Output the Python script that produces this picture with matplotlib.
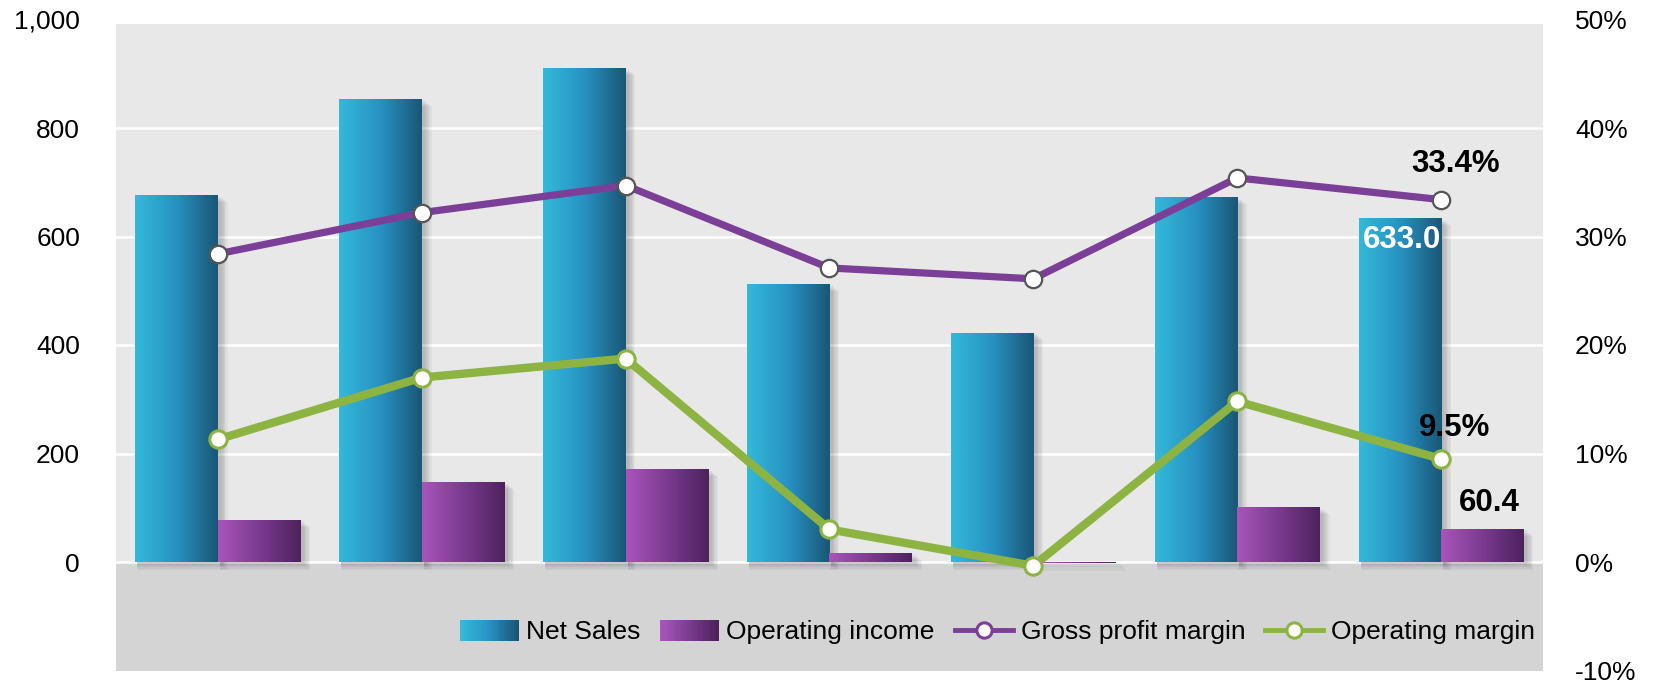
import numpy as np
import matplotlib
matplotlib.use("Agg")
import matplotlib.pyplot as plt
from matplotlib.colors import LinearSegmentedColormap
from matplotlib.patches import Rectangle
from matplotlib.lines import Line2D
from matplotlib.legend_handler import HandlerBase
from matplotlib.ticker import FuncFormatter

plt.rcParams['font.family'] = ['Liberation Sans', 'DejaVu Sans']

# --- data ---
periods = ["P1", "P2", "P3", "P4", "P5", "P6", "P7"]
net_sales = [675, 853, 910, 512, 422, 672, 633.0]
op_income = [77, 146, 170, 16, -1.5, 100, 60.4]
gross_margin = [28.4, 32.2, 34.7, 27.1, 26.1, 35.4, 33.4]
op_margin = [11.3, 17.0, 18.75, 3.0, -0.35, 14.8, 9.5]

left_ticks = [0, 200, 400, 600, 800, 1000]
right_ticks = [-10, 0, 10, 20, 30, 40, 50]

# --- colours ---
cyan_cmap = LinearSegmentedColormap.from_list("cy", ["#34b9d9", "#2792c2", "#1a5676"])
purp_cmap = LinearSegmentedColormap.from_list("pu", ["#a855ba", "#7a3b8f", "#4d225c"])
GROSS = "#7b3f97"
OPM = "#8db442"
TOP_BG = "#e8e8e8"
FLOOR_BG = "#d4d4d4"

W, H, DPI = 1656, 680, 100
PT = 72.0 / DPI  # points per pixel
fig = plt.figure(figsize=(W / DPI, H / DPI), dpi=DPI)
ax = fig.add_axes([116 / W, 1 - 670.5 / H, (1543 - 116) / W, (670.5 - 19.5) / H])
ax2 = ax.twinx()

ax.set_facecolor("none")
ax.axhspan(-200, 0, color=FLOOR_BG, zorder=0, lw=0)
ax.axhspan(0, 992, color=TOP_BG, zorder=0, lw=0)
for t in left_ticks[:-1]:
    ax.axhline(t, color="white", lw=1.8, zorder=1)

grad = np.linspace(0, 1, 256).reshape(1, -1)
bw = 0.405
xpx = 7 / 1427.0    # data units per pixel on x
ypx = 1200 / 651.0  # data units per pixel on y


def gradient_bar(x0, h, cmap):
    if abs(h) < 1e-9:
        return
    y0, y1 = (0, h) if h > 0 else (h, 0)
    # soft shadow
    for k in range(6, 0, -1):
        ax.add_patch(Rectangle((x0 + 2 * xpx, y0 - k * 1.3 * ypx), bw + k * 1.3 * xpx,
                               (y1 - y0) + 0.2 * k * ypx, color="black",
                               alpha=0.035, lw=0, zorder=2))
    ax.imshow(grad, cmap=cmap, aspect="auto", extent=(x0, x0 + bw, y0, y1),
              zorder=3, interpolation="bilinear")


x = np.arange(len(periods))
for i in range(len(periods)):
    gradient_bar(x[i] - bw, net_sales[i], cyan_cmap)
    gradient_bar(x[i], op_income[i], purp_cmap)

ax.set_xlim(-0.5, len(periods) - 0.5)
ax.set_ylim(-200, 1000)

ax2.plot(x, gross_margin, color=GROSS, lw=5.2, marker="o", ms=12.5,
         mfc="white", mec="#555555", mew=1.6, zorder=5, solid_joinstyle="round")
ax2.plot(x, op_margin, color=OPM, lw=6, marker="o", ms=12.5,
         mfc="white", mec=OPM, mew=2.2, zorder=5, solid_joinstyle="round")

# ticks
ax.set_yticks(left_ticks)
ax.yaxis.set_major_formatter(FuncFormatter(lambda v, p: f"{int(v):,}"))
ax2.set_yticks(right_ticks)
ax2.yaxis.set_major_formatter(FuncFormatter(lambda v, p: f"{int(v)}%"))
ax2.set_ylim(-10, 50)
ax.set_xticks([])
ax.tick_params(axis="y", length=0, labelsize=19, pad=36 * PT)
ax2.tick_params(axis="y", length=0, labelsize=19, pad=32 * PT)
for a in (ax, ax2):
    for s in a.spines.values():
        s.set_visible(False)
ax2.patch.set_visible(False)

# data labels on the last period
last = len(periods) - 1
lab = dict(ha="center", va="center", fontsize=22.5, fontweight="bold", zorder=6,
           textcoords="offset pixels")
ax2.annotate(f"{gross_margin[last]:.1f}%", (x[last], gross_margin[last]),
             xytext=(15, 36), **lab)
ax2.annotate(f"{op_margin[last]:.1f}%", (x[last], op_margin[last]),
             xytext=(13, 31), **lab)
ax2.annotate(f"{op_income[last]:.1f}", (x[last] + bw / 2, op_income[last] / 20),
             xytext=(7, 26), **lab)
ax.annotate(f"{net_sales[last]:.1f}", (x[last] - bw / 2, net_sales[last]),
            xytext=(2, -21), color="white", **lab)


# legend with gradient swatches
class GradHandle:
    def __init__(self, cmap):
        self.cmap = cmap


class HandlerGrad(HandlerBase):
    def create_artists(self, legend, orig, xd, yd, width, height, fontsize, trans):
        n = 24
        arts = []
        for k in range(n):
            r = Rectangle((xd + width * k / n, yd - 0.1 * height), width / n + 0.3, height * 1.15,
                          facecolor=orig.cmap(k / (n - 1)), lw=0, transform=trans)
            arts.append(r)
        return arts


handles = [GradHandle(cyan_cmap), GradHandle(purp_cmap),
           Line2D([], [], color=GROSS, lw=3.5, marker="o", ms=11, mfc="white", mec=GROSS, mew=2.2),
           Line2D([], [], color=OPM, lw=3.5, marker="o", ms=11, mfc="white", mec=OPM, mew=2.2)]
labels = ["Net Sales", "Operating income", "Gross profit margin", "Operating margin"]
leg = ax2.legend(handles, labels, handler_map={GradHandle: HandlerGrad()},
                 ncol=4, loc="center right",
                 bbox_to_anchor=((1535 - 116) / 1427, (670.5 - 632) / 651),
                 frameon=False, fontsize=19, handlelength=2.2, handletextpad=0.3,
                 columnspacing=0.75, borderaxespad=0, borderpad=0)

fig.savefig("out.png", dpi=DPI)
